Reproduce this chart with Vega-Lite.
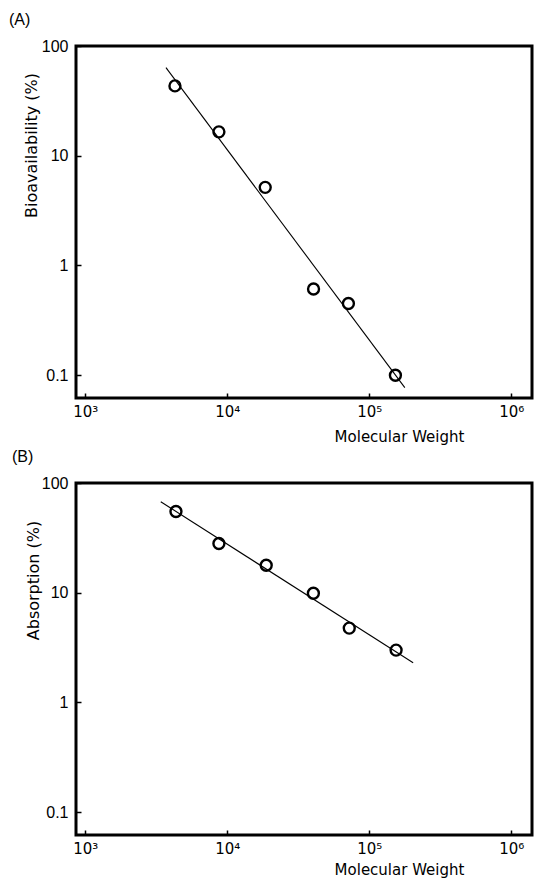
{
  "$schema": "https://vega.github.io/schema/vega-lite/v6.json",
  "autosize": {"type": "pad"},
  "padding": {"left": 7, "top": 10, "right": 0, "bottom": 0},
  "bounds": "flush",
  "spacing": 85,
  "background": "white",
  "config": {
    "view": {"stroke": "black", "strokeWidth": 3},
    "font": "Liberation Sans",
    "axis": {
      "grid": false,
      "domain": false,
      "ticks": true,
      "tickColor": "black",
      "tickSize": -5,
      "tickWidth": 1.5,
      "labelColor": "black",
      "labelFont": "Liberation Sans",
      "labelFontSize": 16,
      "titleColor": "black",
      "titleFont": "DejaVu Sans",
      "titleFontSize": 16,
      "titleFontWeight": "normal"
    },
    "axisX": {"labelFont": "DejaVu Sans", "labelFontSize": 15, "titleFontSize": 15},
    "title": {"font": "Liberation Sans", "fontSize": 16, "fontWeight": "normal", "color": "black", "anchor": "start", "frame": "group"}
  },
  "datasets": {
    "pointsA": [
      {"mw": 4280, "pct": 43.3},
      {"mw": 8730, "pct": 16.5},
      {"mw": 18500, "pct": 5.15},
      {"mw": 40500, "pct": 0.61},
      {"mw": 71300, "pct": 0.45},
      {"mw": 152800, "pct": 0.1}
    ],
    "lineA": [
      {"mw": 3700, "pct": 63.5},
      {"mw": 178000, "pct": 0.077}
    ],
    "pointsB": [
      {"mw": 4350, "pct": 55},
      {"mw": 8730, "pct": 28.1},
      {"mw": 18800, "pct": 17.8},
      {"mw": 40400, "pct": 9.9},
      {"mw": 72300, "pct": 4.76},
      {"mw": 154500, "pct": 3.0}
    ],
    "lineB": [
      {"mw": 3400, "pct": 67.5},
      {"mw": 203700, "pct": 2.3}
    ]
  },
  "vconcat": [
    {
      "width": 456,
      "height": 352,
      "title": {"text": "(A)", "dx": -67, "offset": 10},
      "encoding": {
        "x": {
          "field": "mw", "type": "quantitative",
          "scale": {"type": "log", "domain": [860, 1400000]},
          "axis": {
            "values": [1000, 10000, 100000, 1000000],
            "labelExpr": "'10' + (datum.value == 1000 ? '³' : datum.value == 10000 ? '⁴' : datum.value == 100000 ? '⁵' : '⁶')",
            "labelPadding": 11,
            "labelDx": 4,
            "title": "Molecular Weight",
            "titleX": 323, "titleY": 38, "titleAlign": "center", "titleBaseline": "middle"
          }
        },
        "y": {
          "field": "pct", "type": "quantitative",
          "scale": {"type": "log", "domain": [0.062, 100]},
          "axis": {
            "values": [0.1, 1, 10, 100],
            "format": "~g",
            "labelPadding": 13,
            "title": "Bioavailability (%)",
            "titleX": -45, "titleY": 99, "titleAlign": "center", "titleBaseline": "middle"
          }
        }
      },
      "layer": [
        {"data": {"name": "lineA"}, "mark": {"type": "line", "color": "black", "strokeWidth": 1.1}},
        {"data": {"name": "pointsA"}, "mark": {"type": "point", "shape": "circle", "filled": false, "size": 120, "strokeWidth": 2.4, "color": "black", "opacity": 1}}
      ]
    },
    {
      "width": 456,
      "height": 352,
      "title": {"text": "(B)", "dx": -64, "offset": 10},
      "encoding": {
        "x": {
          "field": "mw", "type": "quantitative",
          "scale": {"type": "log", "domain": [860, 1400000]},
          "axis": {
            "values": [1000, 10000, 100000, 1000000],
            "labelExpr": "'10' + (datum.value == 1000 ? '³' : datum.value == 10000 ? '⁴' : datum.value == 100000 ? '⁵' : '⁶')",
            "labelPadding": 11,
            "labelDx": 4,
            "title": "Molecular Weight",
            "titleX": 323, "titleY": 34, "titleAlign": "center", "titleBaseline": "middle"
          }
        },
        "y": {
          "field": "pct", "type": "quantitative",
          "scale": {"type": "log", "domain": [0.062, 100]},
          "axis": {
            "values": [0.1, 1, 10, 100],
            "format": "~g",
            "labelPadding": 13,
            "title": "Absorption (%)",
            "titleX": -43, "titleY": 97, "titleAlign": "center", "titleBaseline": "middle"
          }
        }
      },
      "layer": [
        {"data": {"name": "lineB"}, "mark": {"type": "line", "color": "black", "strokeWidth": 1.1}},
        {"data": {"name": "pointsB"}, "mark": {"type": "point", "shape": "circle", "filled": false, "size": 120, "strokeWidth": 2.4, "color": "black", "opacity": 1}}
      ]
    }
  ]
}
